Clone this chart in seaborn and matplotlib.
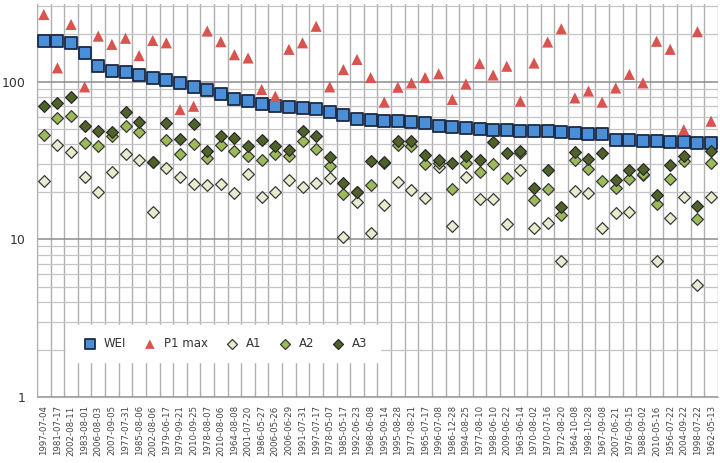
import numpy as np
import pandas as pd
import matplotlib
matplotlib.use('Agg')
import matplotlib.pyplot as plt
import seaborn as sns
from matplotlib.ticker import LogLocator, NullFormatter, FixedLocator

datas = ['1997-07-04', '1981-07-17', '2002-08-11', '1983-08-01', '2006-08-03', '2007-09-05',
         '1977-07-31', '1985-08-06', '2002-08-06', '1979-06-17', '1979-09-21', '2010-09-25',
         '1978-08-07', '2010-08-06', '1964-08-08', '2001-07-20', '1986-05-27', '2006-05-26',
         '2006-06-29', '1991-07-31', '1997-07-17', '1978-05-07', '1985-05-17', '1992-06-23',
         '1968-06-08', '1995-09-14', '1995-08-28', '1977-08-21', '1965-07-17', '1996-07-08',
         '1986-12-28', '1994-08-25', '1977-08-10', '1998-06-10', '2009-06-22', '1963-06-14',
         '1970-08-02', '1970-07-16', '1972-08-20', '1964-10-08', '1998-10-28', '1967-09-08',
         '2007-06-21', '1976-09-15', '1988-09-02', '2010-05-16', '1956-07-22', '2004-09-22',
         '1998-07-22', '1962-05-13']

wei = [180, 180, 176, 151, 125, 117, 115, 110, 106, 103,
       98, 93, 88, 83, 78, 75, 72.5, 70.4, 68.7, 68,
       67.4, 64.2, 61.5, 58, 56.8, 56, 56, 55.5, 54.7, 52.6,
       51.6, 50.8, 50.3, 49.5, 49.5, 48.3, 48.3, 48.3, 47.6, 47.2,
       46.7, 46.3, 42.4, 42.4, 42.0, 41.8, 41.4, 41.2, 41.0, 40.8]

p1_max = [266, 122, 230, 92.5, 194, 172, 188, 146, 182, 176,
          66.4, 69.7, 209, 179, 148, 141, 89, 80.7, 160, 176,
          224, 92.5, 119, 138, 106, 74, 92, 98, 106, 112,
          77, 96.6, 130, 110, 125, 75, 131, 178, 216, 78.7,
          87, 74, 91, 111, 98, 180, 160, 49.5, 207, 56]

a1 = [23.3, 39.8, 35.6, 25, 20, 26.7, 34.9, 31.7, 15, 28.3,
      25, 22.3, 22, 22.4, 19.7, 26, 18.5, 19.8, 23.7, 21.4,
      22.6, 24.6, 10.3, 17.2, 10.9, 16.6, 23, 20.6, 18.3, 28.8,
      12.2, 25, 18.1, 18, 12.5, 27.3, 11.8, 12.7, 7.3, 20.1,
      19.6, 11.8, 14.7, 15, 25.5, 7.3, 13.6, 18.5, 5.1, 18.5]

a2 = [46, 58.8, 60.8, 40.8, 39.3, 45.4, 52, 47.6, 31, 42.4,
      34.9, 40.4, 32.7, 39.8, 36.1, 33.6, 32, 34.9, 33.6, 41.8,
      37.6, 29.2, 19.4, 19.8, 22.1, 30.5, 39.6, 39.3, 30, 30.5,
      20.7, 30.4, 26.6, 30.2, 24.5, 35, 17.8, 20.8, 14.3, 32,
      27.9, 23.3, 21.1, 24.1, 26, 16.8, 24.1, 31.2, 13.4, 30.4]

a3 = [69.7, 73, 80, 52, 48.3, 47.6, 64.2, 55.5, 30.7, 54.7,
      43.2, 54.1, 36.1, 45, 43.9, 38.8, 42.4, 38.8, 36.6, 48.9,
      45.4, 33.3, 22.6, 20, 31.2, 30.9, 41.8, 42, 34, 32,
      30.3, 33.8, 32, 41.2, 35.3, 36.1, 21.1, 27.3, 16, 35.6,
      32.3, 35.3, 23.9, 27.6, 28, 19.2, 29.7, 33.9, 16.3, 36.1]

pos = np.arange(len(datas))

sns.set_style('white')
plt.rcParams['font.family'] = ['DejaVu Sans']

fig = plt.figure(figsize=(7.2, 4.63), dpi=100)
ax = fig.add_axes([0.0514, 0.1425, 0.9456, 0.8488])

# series: (values, label, marker, size, face, edge, lw)
series = [
    (wei, 'WEI', 's', 66, '#4a8fd8', '#1c2a44', 1.3),
    (p1_max, 'P1 max', '^', 64, '#d9534f', 'none', 0),
    (a1, 'A1', 'D', 36, '#e6edcf', '#3a3a3a', 0.9),
    (a2, 'A2', 'D', 36, '#9bbb59', '#3a3a3a', 0.9),
    (a3, 'A3', 'D', 36, '#4f6228', '#2a2a2a', 0.9),
]
for vals, lab, mk, sz, fc, ec, lw in series:
    df = pd.DataFrame({'x': pos, 'y': vals})
    sns.scatterplot(data=df, x='x', y='y', marker=mk, s=sz, color=fc,
                    edgecolor=ec, linewidth=lw, label=lab, ax=ax, zorder=3)

ax.set_yscale('log')
ax.set_ylim(1, 310)
ax.set_xlim(-0.5, len(datas) - 0.5)

ax.yaxis.set_minor_locator(LogLocator(base=10, subs=np.arange(2, 10), numticks=20))
ax.yaxis.set_minor_formatter(NullFormatter())
ax.set_yticks([1, 10, 100])
ax.set_yticklabels(['1', '10', '100'])
ax.grid(True, which='major', axis='y', color='#8c8c8c', linewidth=1.1)
ax.grid(True, which='minor', axis='y', color='#c4c4c4', linewidth=0.9)

ax.set_xticks(pos)
ax.set_xticklabels(datas, rotation=90, fontsize=6.2, color='#444444')
ax.xaxis.set_minor_locator(FixedLocator(np.arange(-0.5, len(datas), 1.0)))
ax.grid(True, which='minor', axis='x', color='#b0b0b0', linewidth=1.0)
ax.tick_params(axis='x', which='major', length=0, pad=6)
ax.tick_params(axis='x', which='minor', length=6, color='#b0b0b0', width=1.0)
ax.tick_params(axis='y', which='both', length=0, labelsize=9, colors='#333333', pad=8)
ax.set_axisbelow(True)

for s in ['top', 'right']:
    ax.spines[s].set_visible(False)
ax.spines['left'].set_color('#b0b0b0')
ax.spines['bottom'].set_color('#b0b0b0')

ax.set_xlabel('')
ax.set_ylabel('')

leg = ax.legend(loc='lower left', bbox_to_anchor=(0.034, 0.074), ncol=5, frameon=True,
                fontsize=8.5, handletextpad=0.2, columnspacing=1.0, borderpad=1.0,
                markerscale=0.85, labelcolor='#333333')
leg.get_frame().set_facecolor('white')
leg.get_frame().set_edgecolor('white')
leg.get_frame().set_alpha(1)
leg.get_frame().set_boxstyle('square', pad=0.0)

fig.savefig('out.png', dpi=100)
